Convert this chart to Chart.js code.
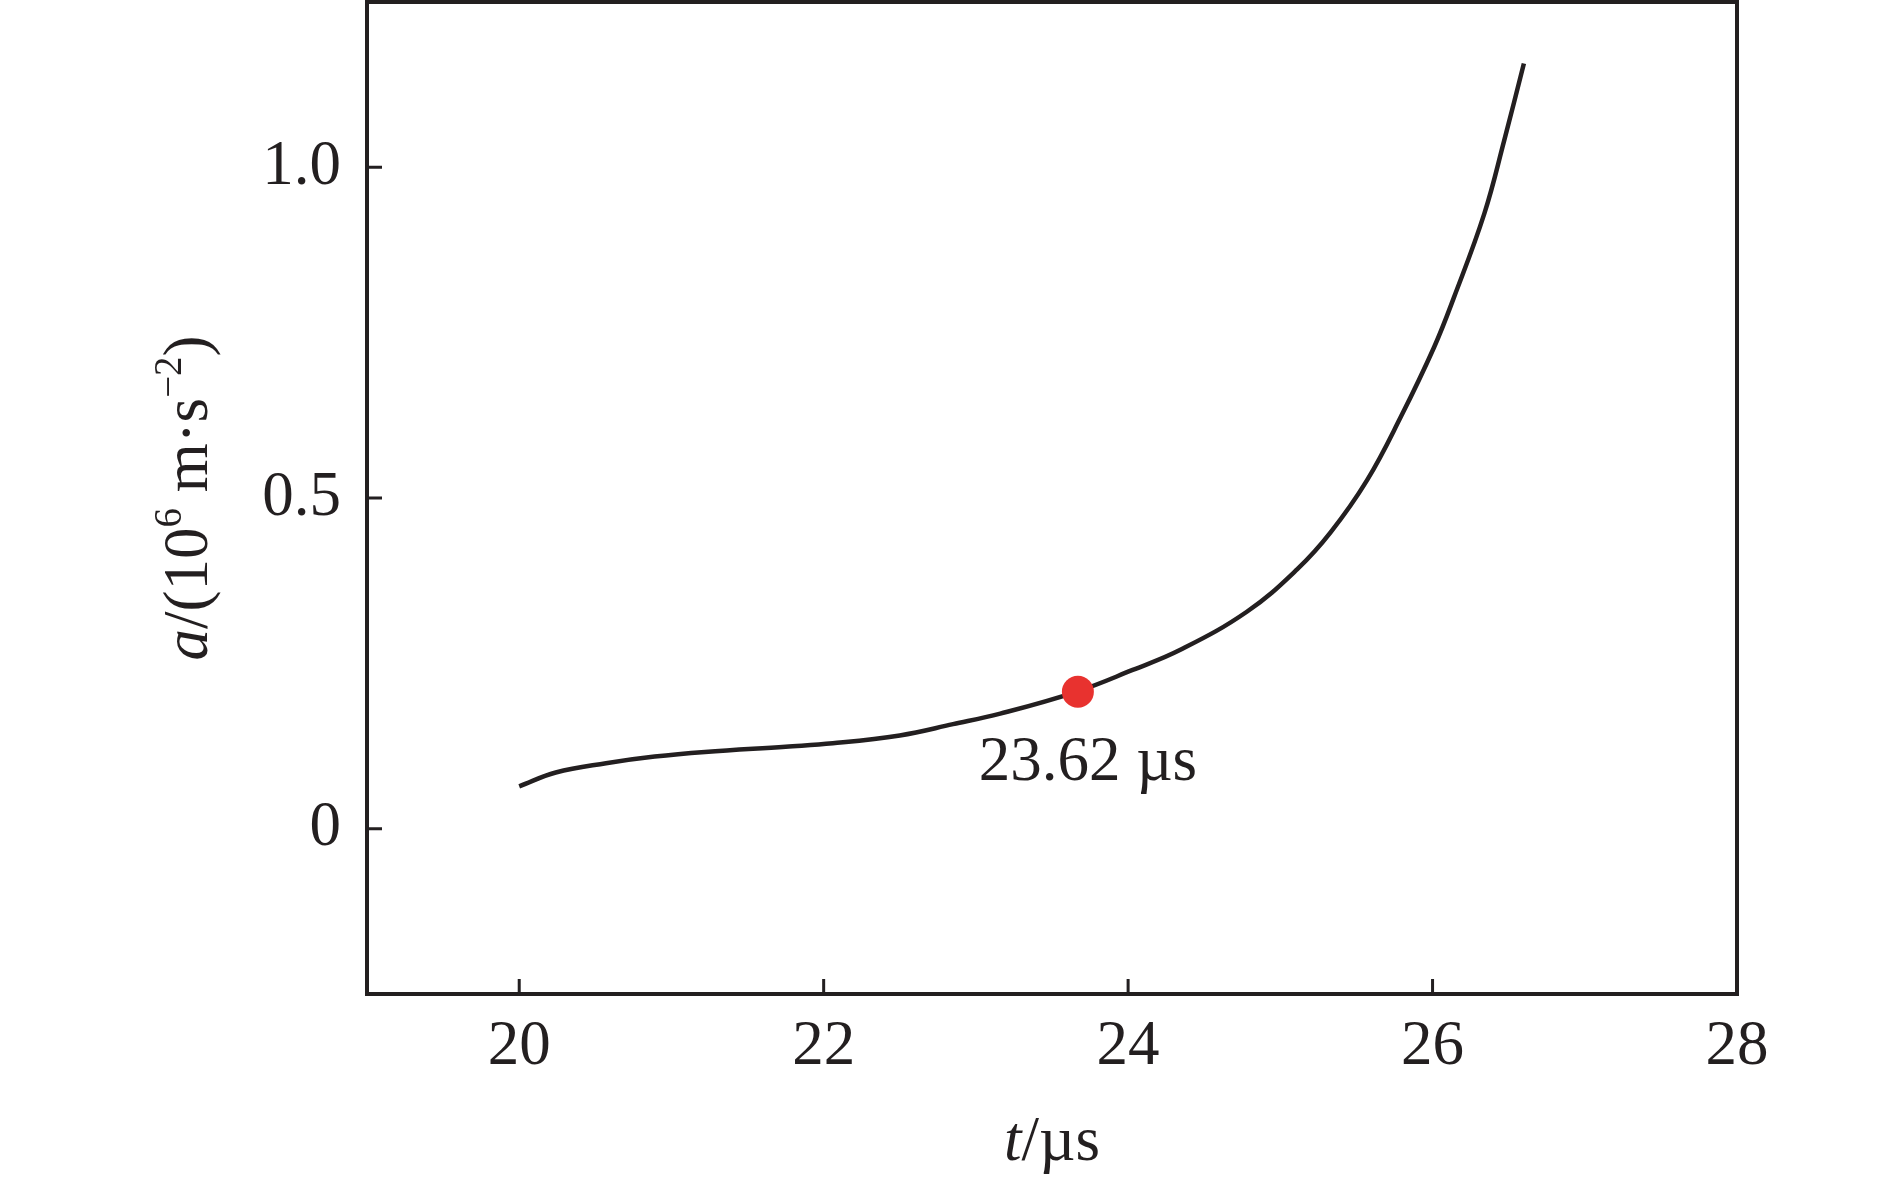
<!DOCTYPE html>
<html>
<head>
<meta charset="utf-8">
<script src="https://cdn.jsdelivr.net/npm/chart.js@4/dist/chart.umd.min.js"></script>
<style>
  html, body { margin: 0; padding: 0; background: #fff; }
  #wrap { width: 1890px; height: 1181px; }
</style>
</head>
<body>
<div id="wrap"><canvas id="c" width="1890" height="1181"></canvas></div>
<script>
// curve: t (µs) vs a (10^6 m/s^2)
const tVals = [20.00, 20.24, 20.57, 20.89, 21.22, 21.75, 22.06, 22.50, 22.85, 23.16, 23.66, 24.03,
               24.34, 24.78, 25.11, 25.33, 25.57, 25.79, 26.01, 26.14, 26.34, 26.47, 26.60];
const aVals = [0.064, 0.085, 0.099, 0.109, 0.116, 0.124, 0.129, 0.141, 0.158, 0.174, 0.207, 0.240,
               0.270, 0.328, 0.392, 0.448, 0.527, 0.622, 0.728, 0.803, 0.930, 1.040, 1.157];
// highlighted point + its label
const markT = [23.67];
const markA = [0.207];
const markLabel = "23.62 \u00b5s";
// axes
const xTicks = [20, 22, 24, 26, 28];
const yTicks = [0, 0.5, 1.0];
const xRange = [19, 28];
const yRange = [-0.25, 1.25];

const INK = "#231f20";
const SERIF = '"Liberation Serif", "Times New Roman", serif';
const FS = 63;

// frame, inward ticks, axis titles, point label
const decor = {
  id: "decor",
  afterDraw(chart) {
    const { ctx, chartArea: ca, scales } = chart;
    const x = scales.x, y = scales.y;
    ctx.save();
    ctx.strokeStyle = INK;
    ctx.lineWidth = 4;
    ctx.strokeRect(ca.left, ca.top, ca.right - ca.left, ca.bottom - ca.top);
    ctx.lineWidth = 3;
    ctx.beginPath();
    xTicks.forEach(v => {
      const px = x.getPixelForValue(v);
      if (px > ca.left + 2 && px < ca.right - 2) { ctx.moveTo(px, ca.bottom); ctx.lineTo(px, ca.bottom - 15); }
    });
    yTicks.forEach(v => {
      const py = y.getPixelForValue(v);
      ctx.moveTo(ca.left, py); ctx.lineTo(ca.left + 15, py);
    });
    ctx.stroke();

    ctx.fillStyle = INK;
    ctx.textBaseline = "alphabetic";

    const runs = (parts) => {
      let w = 0;
      parts.forEach(p => { ctx.font = p.f; p.w = ctx.measureText(p.s).width; w += p.w; });
      return w;
    };
    const drawRuns = (parts, x0, base) => {
      let cx = x0;
      parts.forEach(p => { ctx.font = p.f; ctx.fillText(p.s, cx, base + (p.dy || 0)); cx += p.w; });
    };
    const it = `italic ${FS}px ${SERIF}`, rm = `${FS}px ${SERIF}`, sup = `${Math.round(FS * 0.62)}px ${SERIF}`;
    ctx.textAlign = "left";

    // x title: t/µs
    const xt = [{ s: "t", f: it }, { s: "/\u00b5s", f: rm }];
    const xw = runs(xt);
    drawRuns(xt, (ca.left + ca.right) / 2 - xw / 2, 1160);

    // y title: a/(10^6 m·s^-2), rotated
    const yt = [{ s: "a", f: it }, { s: "/(10", f: rm }, { s: "6", f: sup, dy: -26 },
                { s: " m\u00b7s", f: rm }, { s: "\u22122", f: sup, dy: -26 }, { s: ")", f: rm }];
    const yw = runs(yt);
    ctx.save();
    ctx.translate(207, (ca.top + ca.bottom) / 2);
    ctx.rotate(-Math.PI / 2);
    drawRuns(yt, -yw / 2, 0);
    ctx.restore();

    // point label
    ctx.font = rm;
    ctx.textAlign = "center";
    ctx.fillText(markLabel, x.getPixelForValue(markT[0]) + 10, y.getPixelForValue(markA[0]) + 88);
    ctx.restore();
  }
};

new Chart(document.getElementById("c"), {
  type: "scatter",
  data: {
    datasets: [
      { type: "line", data: tVals.map((t, i) => ({ x: t, y: aVals[i] })),
        borderColor: INK, borderWidth: 4.5, pointRadius: 0, fill: false,
        tension: 0.4, order: 2 },
      { data: markT.map((t, i) => ({ x: t, y: markA[i] })),
        backgroundColor: "#e8322f", borderWidth: 0, pointRadius: 16, order: 1 },
    ],
  },
  options: {
    responsive: false, animation: false, devicePixelRatio: 1,
    layout: { autoPadding: false, padding: { top: 2, right: 153, left: 0, bottom: 0 } },
    plugins: { legend: { display: false }, tooltip: { enabled: false } },
    scales: {
      x: {
        type: "linear", min: xRange[0], max: xRange[1],
        afterBuildTicks: s => { s.ticks = xTicks.map(v => ({ value: v })); },
        afterFit: s => { s.height = 187; s.paddingLeft = 0; s.paddingRight = 0; },
        grid: { display: false, drawTicks: false },
        border: { display: false },
        ticks: { color: INK, font: { family: SERIF, size: FS }, padding: 16, maxRotation: 0,
                 callback: v => String(v) },
      },
      y: {
        type: "linear", min: yRange[0], max: yRange[1],
        afterBuildTicks: s => { s.ticks = yTicks.map(v => ({ value: v })); },
        afterFit: s => { s.width = 367; s.paddingTop = 0; s.paddingBottom = 0; },
        grid: { display: false, drawTicks: false },
        border: { display: false },
        ticks: { color: INK, font: { family: SERIF, size: FS }, padding: 26,
                 callback: v => v === 0 ? "0" : v.toFixed(1) },
      },
    },
  },
  plugins: [decor],
});
</script>
</body>
</html>
